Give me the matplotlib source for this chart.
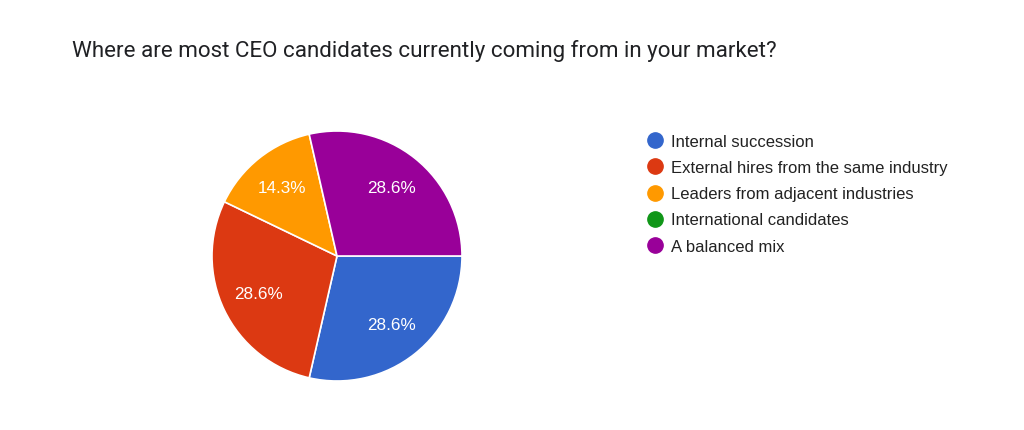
import matplotlib.pyplot as plt
from matplotlib.lines import Line2D

question = 'Where are most CEO candidates currently coming from in your market?'
answers = ['Internal succession', 'External hires from the same industry',
           'Leaders from adjacent industries', 'International candidates', 'A balanced mix']
counts = [2, 2, 1, 0, 2]
colors = ['#3366cc', '#dc3912', '#ff9900', '#109618', '#990099']

W, H = 1024, 431
fig = plt.figure(figsize=(W / 100, H / 100), dpi=100)
fig.patch.set_facecolor('white')

fig.text(72 / W, 1 - 51 / H, question, fontsize=16.1, family='Roboto',
         color='#202124', va='center', ha='left')

# pie: centre (337, 257), radius 125 px
cx, cy, r = 337, 257, 125
ax = fig.add_axes([(cx - r) / W, (H - cy - r) / H, 2 * r / W, 2 * r / H])
shown = [(c, col) for c, col in zip(counts, colors) if c > 0]
wedges, texts, autotexts = ax.pie(
    [c for c, _ in shown], colors=[col for _, col in shown],
    startangle=0, counterclock=False, autopct='%1.1f%%', pctdistance=0.70,
    wedgeprops=dict(edgecolor='white', linewidth=1.2),
    textprops=dict(color='white', fontsize=12.3, family='Liberation Sans'))
ax.set_xlim(-1, 1)
ax.set_ylim(-1, 1)
ax.set_aspect('equal')
ax.axis('off')

handles = [Line2D([], [], marker='o', linestyle='none', markersize=11,
                  markerfacecolor=c, markeredgecolor=c) for c in colors]
fig.legend(handles, answers, loc='upper left', bbox_to_anchor=(645 / W, 1 - 135 / H),
           frameon=False, handletextpad=0.38, labelspacing=0.67, handlelength=1.2,
           borderaxespad=0, borderpad=0,
           prop=dict(family='Liberation Sans', size=12), labelcolor='#222222')

fig.savefig('out.png', dpi=100, facecolor='white')
